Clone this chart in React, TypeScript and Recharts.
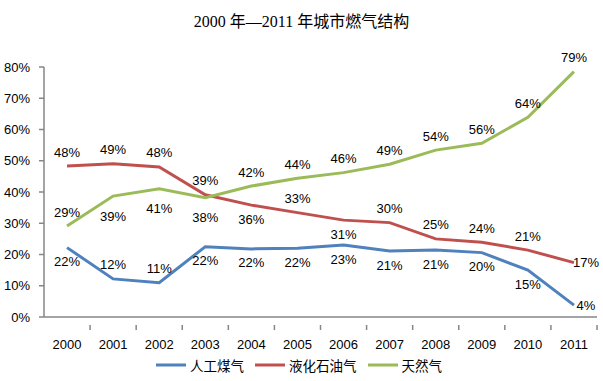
import { LineChart, Line, XAxis, YAxis, Legend } from "recharts";

const years = ["2000", "2001", "2002", "2003", "2004", "2005", "2006", "2007", "2008", "2009", "2010", "2011"];

// 人工煤气
const manufacturedGas = [22.2, 12.2, 11.0, 22.5, 21.8, 22.0, 23.0, 21.1, 21.4, 20.6, 15.0, 3.8];
const manufacturedGasLabels = ["22%", "12%", "11%", "22%", "22%", "22%", "23%", "21%", "21%", "20%", "15%", "4%"];

// 液化石油气
const lpg = [48.3, 49.0, 48.0, 39.1, 35.8, 33.4, 31.0, 30.2, 25.0, 23.9, 21.4, 17.4];
const lpgLabels = ["48%", "49%", "48%", "39%", "36%", "33%", "31%", "30%", "25%", "24%", "21%", "17%"];

// 天然气
const naturalGas = [29.1, 38.7, 41.0, 38.2, 41.9, 44.4, 46.2, 48.9, 53.4, 55.6, 63.9, 78.5];
const naturalGasLabels = ["29%", "39%", "41%", "38%", "42%", "44%", "46%", "49%", "54%", "56%", "64%", "79%"];

const yTicks = [0, 10, 20, 30, 40, 50, 60, 70, 80];

const data = years.map((year, i) => ({
  year,
  manufactured: manufacturedGas[i],
  lpg: lpg[i],
  natural: naturalGas[i],
}));

const BLUE = "#4F81BD";
const RED = "#C0504D";
const GREEN = "#9BBB59";
const AXIS = "#868686";
const FONT = "'Liberation Sans', 'Noto Sans CJK SC', sans-serif";

const CHART_W = 603;
const CHART_H = 381;
const MARGIN = { top: 67, right: 6, left: 0, bottom: 0 };
const Y_AXIS_W = 44;
const BAND = (CHART_W - MARGIN.right - Y_AXIS_W) / years.length;

type Side = "above" | "below" | "right";

// where Excel dropped each label relative to its point
function placeFor(series: string, i: number): Side {
  if (i === years.length - 1 && series !== "natural") return "right";
  if (series === "manufactured") return i === 1 || i === 2 ? "above" : "below";
  if (series === "lpg") return i === 4 || i === 6 ? "below" : "above";
  return i >= 1 && i <= 3 ? "below" : "above";
}

function makeLabel(series: string, labels: string[]) {
  return (props: any) => {
    const { x, y, index } = props;
    const side = placeFor(series, index);
    let dx = 0;
    let dy = -13;
    if (side === "below") dy = series === "natural" ? 21 : 15;
    if (side === "right") {
      dx = 12;
      dy = 1;
    }
    return (
      <text
        x={x + dx}
        y={y + dy}
        textAnchor="middle"
        dominantBaseline="middle"
        fontSize={13}
        fontFamily={FONT}
        fill="#000"
      >
        {labels[index]}
      </text>
    );
  };
}

function YearTick(props: any) {
  const { x, y, payload } = props;
  return (
    <g>
      <line x1={x + BAND / 2} x2={x + BAND / 2} y1={y} y2={y + 5} stroke={AXIS} strokeWidth={1.5} />
      <text x={x} y={y + 21} textAnchor="middle" dominantBaseline="middle" fontSize={13} fontFamily={FONT} fill="#000">
        {payload.value}
      </text>
    </g>
  );
}

const legendItems = [
  { name: "人工煤气", color: BLUE },
  { name: "液化石油气", color: RED },
  { name: "天然气", color: GREEN },
];

function GasLegend() {
  return (
    <div style={{ display: "flex", justifyContent: "center", alignItems: "center", gap: 10, fontFamily: FONT, fontSize: 13.5 }}>
      {legendItems.map((item) => (
        <div key={item.name} style={{ display: "flex", alignItems: "center" }}>
          <svg width={32} height={8}>
            <line x1={1} x2={31} y1={4} y2={4} stroke={item.color} strokeWidth={3} />
          </svg>
          <span style={{ marginLeft: 3, color: "#000" }}>{item.name}</span>
        </div>
      ))}
    </div>
  );
}

export default function App() {
  return (
    <div style={{ position: "absolute", left: 0, top: 0, width: CHART_W, height: CHART_H, background: "#fff" }}>
      <div
        style={{
          position: "absolute",
          top: 8,
          left: 0,
          width: CHART_W,
          textAlign: "center",
          fontFamily: "'Liberation Serif', 'Noto Sans CJK SC', serif",
          fontSize: 16,
        }}
      >
        2000 年—2011 年城市燃气结构
      </div>
      <LineChart width={CHART_W} height={CHART_H} data={data} margin={MARGIN}>
        <XAxis
          dataKey="year"
          padding={{ left: BAND / 2, right: BAND / 2 }}
          axisLine={{ stroke: AXIS, strokeWidth: 1.5 }}
          tickLine={false}
          tick={<YearTick />}
          interval={0}
          height={38}
        />
        <YAxis
          width={Y_AXIS_W}
          domain={[0, 80]}
          ticks={yTicks}
          tickFormatter={(v: number) => `${v}%`}
          axisLine={{ stroke: AXIS, strokeWidth: 1.5 }}
          tickLine={{ stroke: AXIS, strokeWidth: 1.5 }}
          tickSize={5}
          tickMargin={9}
          tick={{ fontSize: 13, fill: "#000", fontFamily: FONT }}
        />
        <Legend verticalAlign="bottom" height={26} content={<GasLegend />} />
        <Line
          dataKey="manufactured"
          name="人工煤气"
          stroke={BLUE}
          strokeWidth={3}
          dot={false}
          isAnimationActive={false}
          label={makeLabel("manufactured", manufacturedGasLabels)}
        />
        <Line
          dataKey="lpg"
          name="液化石油气"
          stroke={RED}
          strokeWidth={3}
          dot={false}
          isAnimationActive={false}
          label={makeLabel("lpg", lpgLabels)}
        />
        <Line
          dataKey="natural"
          name="天然气"
          stroke={GREEN}
          strokeWidth={3}
          dot={false}
          isAnimationActive={false}
          label={makeLabel("natural", naturalGasLabels)}
        />
      </LineChart>
    </div>
  );
}
